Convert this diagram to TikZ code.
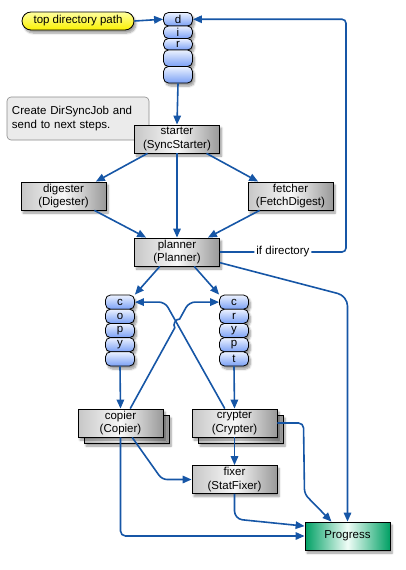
\documentclass[tikz,border=0pt]{standalone}
\usepackage{fontspec}
\setmainfont{Liberation Sans}
\usetikzlibrary{arrows.meta,shadows.blur}

\definecolor{flowc}{RGB}{22,86,166}
\definecolor{cellTop}{RGB}{236,242,255}
\definecolor{cellBot}{RGB}{122,160,245}
\definecolor{progEdge}{RGB}{0,160,100}
\definecolor{progMid}{RGB}{240,253,247}
\definecolor{pillTop}{RGB}{255,255,160}
\definecolor{pillBot}{RGB}{250,240,0}

\tikzset{
  every node/.style={font=\fontsize{11.5pt}{13.5pt}\selectfont},
  softshadow/.style={blur shadow={shadow xshift=2pt,shadow yshift=-3pt,shadow blur steps=6,shadow opacity=40}},
  proc/.style={rectangle, draw=black, line width=0.8pt, minimum width=85pt,
    minimum height=28pt, inner sep=0pt, align=center,
    left color=black!22, right color=black!40, middle color=black!3, softshadow},
  cell/.style={rectangle, rounded corners=5pt, draw=black, line width=0.8pt,
    minimum width=29pt, inner sep=0pt, top color=cellTop, bottom color=cellBot, softshadow},
  pill/.style={rectangle, rounded corners=9pt, draw=black, line width=0.8pt,
    minimum width=112pt, minimum height=18pt, inner sep=0pt,
    top color=pillTop, bottom color=pillBot, softshadow},
  notebox/.style={rectangle, rounded corners=4pt, draw=black!45, line width=0.6pt,
    fill=black!8, minimum width=142pt, minimum height=43pt, inner sep=0pt,
    text width=132pt, align=left},
  progbox/.style={rectangle, draw=black, line width=0.8pt, minimum width=85pt,
    minimum height=28pt, inner sep=0pt,
    left color=progEdge, right color=progEdge, middle color=progMid, softshadow},
  flow/.style={draw=flowc, line width=1.6pt, -{Triangle[length=9pt,width=7.5pt]}},
  iflabel/.style={fill=white, inner sep=2pt}
}

\begin{document}
\begin{tikzpicture}[x=1pt,y=-1pt]
\useasboundingbox (0,0) rectangle (405,570);

% entry point and directory queue
\node[pill] (path) at (78,21) {top directory path};
\node[cell, minimum height=13.5pt] (d1) at (178,19.25) {d};
\node[cell, minimum height=12.5pt] (d2) at (178,32.25) {i};
\node[cell, minimum height=11.5pt] (d3) at (178,44.25) {r};
\node[cell, minimum height=16.5pt] (d4) at (178,58.25) {};
\node[cell, minimum height=16.5pt] (d5) at (178,74.75) {};

\node[notebox] (note) at (78,118.5) {Create DirSyncJob and\\send to next steps.};

% processing stages
\node[proc] (starter) at (177,139) {starter\\(SyncStarter)};
\node[proc] (digester) at (63.5,196) {digester\\(Digester)};
\node[proc] (fetcher) at (290.5,196) {fetcher\\(FetchDigest)};
\node[proc] (planner) at (177,252) {planner\\(Planner)};

% copy queue
\node[cell, minimum height=14.2pt] (cp1) at (120,302.1) {c};
\node[cell, minimum height=14.2pt] (cp2) at (120,316.3) {o};
\node[cell, minimum height=14.2pt] (cp3) at (120,330.5) {p};
\node[cell, minimum height=14.2pt] (cp4) at (120,344.7) {y};
\node[cell, minimum height=14.2pt] (cp5) at (120,358.9) {};

% crypt queue
\node[cell, minimum height=14.2pt] (cr1) at (234,302.1) {c};
\node[cell, minimum height=14.2pt] (cr2) at (234,316.3) {r};
\node[cell, minimum height=14.2pt] (cr3) at (234,330.5) {y};
\node[cell, minimum height=14.2pt] (cr4) at (234,344.7) {p};
\node[cell, minimum height=14.2pt] (cr5) at (234,358.9) {t};

% worker pools (stacked)
\node[proc] (copierback) at (126.5,429) {};
\node[proc] (copier) at (120.5,423) {copier\\(Copier)};
\node[proc] (crypterback) at (240.5,429) {};
\node[proc] (crypter) at (234.5,423) {crypter\\(Crypter)};
\node[proc] (fixer) at (234.5,479.5) {fixer\\(StatFixer)};
\node[progbox] (progress) at (347.5,536) {Progress};

% bend points
\coordinate (ic1) at (346,252);
\coordinate (ic2) at (346,19.25);
\coordinate (pb) at (347.5,296);
\coordinate (bA) at (165,302.1);
\coordinate (bB) at (189,302.1);
\coordinate (hb1) at (174.8,327.7);
\coordinate (hb2) at (179.6,319.1);
\coordinate (cf) at (162,479.5);
\coordinate (ce1) at (303.5,423);
\coordinate (ce2) at (304.5,494);
\coordinate (fb) at (234.5,519);

% connectors
\draw[flow] (path.east) -- (d1.west);
\draw[flow, rounded corners=4pt] (planner.east) -- node[iflabel]{if directory} (ic1) -- (ic2) -- (d1.east);
\draw[flow] (d5.south) -- (starter.north);
\draw[flow] (starter.206) -- (digester.24);
\draw[flow] (starter.334) -- (fetcher.156);
\draw[flow] (starter.south) -- (planner.north);
\draw[flow] (digester.335) -- (planner.155);
\draw[flow] (fetcher.205) -- (planner.25);
\draw[flow] (planner.220) -- (cp1.north east);
\draw[flow] (planner.320) -- (cr1.north west);
\draw[flow, rounded corners=10pt] (planner.346) -- (pb) -- (progress.north);
\draw[flow] (cp5.south) -- (copier.north);
\draw[flow] (cr5.south) -- (crypter.north);
\draw[flow, rounded corners=6pt] (crypter.124) -- (bA) -- (cp1.east);
% this line hops over the one above where they cross
\draw[flow] (copier.56) -- (hb1) to[bend left=70] (hb2)
  [rounded corners=6pt] -- (bB) -- (cr1.west);
\draw[flow, rounded corners=5pt] (copier.309) -- (cf) -- (fixer.west);
\draw[flow, rounded corners=5pt] (copier.south) |- (progress.west);
\draw[flow] (crypter.south) -- (fixer.north);
\draw[flow, rounded corners=5pt] (crypter.east) -- (ce1) -- (ce2) -- (progress.138);
\draw[flow, rounded corners=8pt] (fixer.south) -- (fb) -- (progress.167);
\end{tikzpicture}
\end{document}
